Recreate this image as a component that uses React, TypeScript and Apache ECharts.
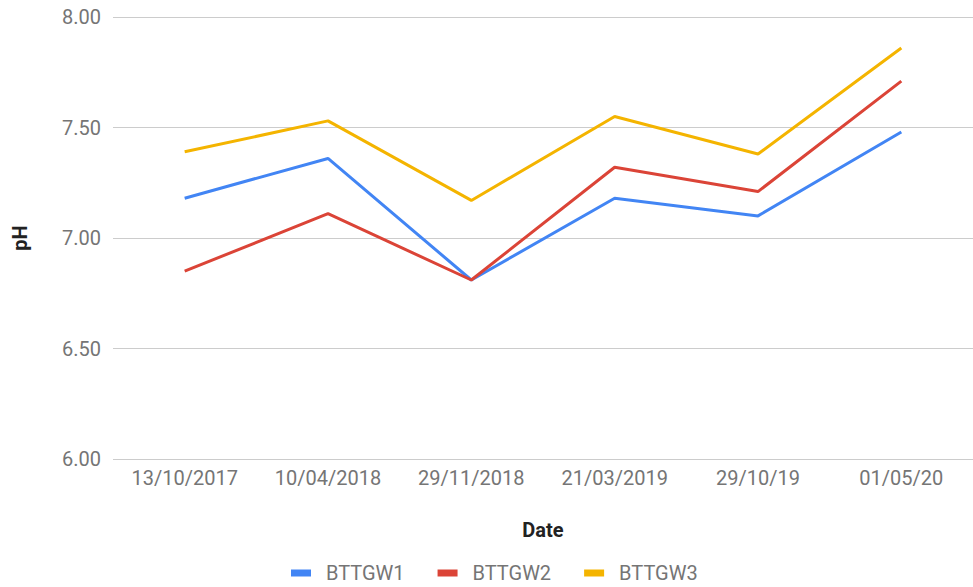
import React, { useEffect, useRef } from "react";
import * as echarts from "echarts";

const categories = ["13/10/2017", "10/04/2018", "29/11/2018", "21/03/2019", "29/10/19", "01/05/20"];
const bttgw1 = [7.18, 7.36, 6.81, 7.18, 7.1, 7.48];
const bttgw2 = [6.85, 7.11, 6.81, 7.32, 7.21, 7.71];
const bttgw3 = [7.39, 7.53, 7.17, 7.55, 7.38, 7.86];
const seriesNames = ["BTTGW1", "BTTGW2", "BTTGW3"];
const colors = ["#4285F4", "#DB4437", "#F4B400"];

export default function App() {
  const ref = useRef<HTMLDivElement>(null);
  useEffect(() => {
    if (!ref.current) return;
    const chart = echarts.init(ref.current, null, { renderer: "svg" });
    const font = "Roboto";
    chart.setOption({
      animation: false,
      textStyle: { fontFamily: font },
      color: colors,
      grid: { left: 113, width: 863, top: 17, bottom: 128, containLabel: false },
      legend: {
        left: 286,
        top: 558,
        itemWidth: 20,
        itemHeight: 7,
        itemGap: 33,
        icon: "rect",
        textStyle: { fontFamily: font, fontSize: 20, color: "#757575", padding: [0, 0, 0, 10] },
        data: seriesNames,
      },
      xAxis: {
        type: "category",
        data: categories,
        boundaryGap: true,
        axisLine: { show: false },
        axisTick: { show: false },
        axisLabel: { fontFamily: font, fontSize: 20, color: "#757575", margin: 9, interval: 0 },
        name: "Date",
        nameLocation: "middle",
        nameGap: 61,
        nameTextStyle: { fontFamily: font, fontSize: 20, fontWeight: "bold", color: "#222" },
      },
      yAxis: {
        type: "value",
        min: 6,
        max: 8,
        interval: 0.5,
        axisLine: { show: false },
        axisTick: { show: false },
        splitLine: { lineStyle: { color: "#cccccc", width: 1 } },
        axisLabel: {
          fontFamily: font,
          fontSize: 20,
          color: "#757575",
          margin: 12,
          formatter: (v: number) => v.toFixed(2),
        },
        name: "pH",
        nameLocation: "middle",
        nameGap: 83,
        nameRotate: 90,
        nameTextStyle: { fontFamily: font, fontSize: 20, fontWeight: "bold", color: "#222" },
      },
      series: [bttgw1, bttgw2, bttgw3].map((d, i) => ({
        name: seriesNames[i],
        type: "line",
        data: d,
        symbol: "none",
        lineStyle: { width: 3, color: colors[i] },
        itemStyle: { color: colors[i] },
      })),
    });
    return () => chart.dispose();
  }, []);
  return <div ref={ref} style={{ width: 973, height: 587, position: "absolute", left: 0, top: 0 }} />;
}
